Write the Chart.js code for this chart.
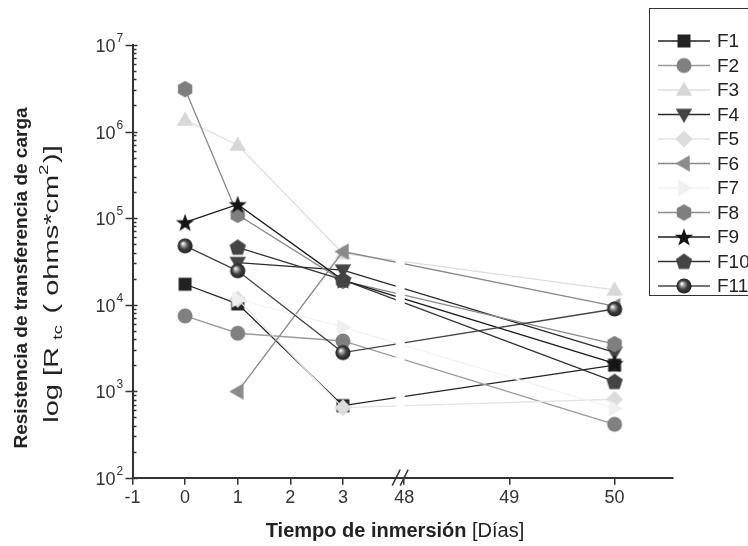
<!DOCTYPE html>
<html><head><meta charset="utf-8">
<script src="https://cdn.jsdelivr.net/npm/chart.js@4.4.1/dist/chart.umd.min.js"></script>
<style>html,body{margin:0;padding:0;background:#fff}#wrap{width:748px;height:546px;position:relative}</style>
</head><body><div id="wrap"><canvas id="c" width="748" height="546"></canvas></div>
<script>
// ---- data ----
const days = [0, 1, 3, 50];
const seriesNames = ['F1','F2','F3','F4','F5','F6','F7','F8','F9','F10','F11'];
const F1  = [1.72e4, 1.02e4, 680,    2.0e3];
const F2  = [7.4e3,  4.67e3, 3.8e3,  414];
const F3  = [1.36e6, 7.0e5,  3.9e4,  1.48e4];
const F4  = [null,   3.06e4, 2.5e4,  2.8e3];
const F5  = [null,   1.15e4, 645,    806];
const F6  = [null,   990,    4.1e4,  9.6e3];
const F7  = [null,   1.15e4, 5.5e3,  634];
const F8  = [3.09e6, 1.09e5, 1.88e4, 3.5e3];
const F9  = [8.9e4,  1.44e5, 1.92e4, 2.1e3];
const F10 = [null,   4.6e4,  1.93e4, 1.29e3];
const F11 = [4.78e4, 2.46e4, 2.79e3, 8.9e3];
const seriesValues = [F1,F2,F3,F4,F5,F6,F7,F8,F9,F10,F11];
const xTickDays = [-1, 0, 1, 2, 3, 48, 49, 50];
const xTickLabels = ['-1','0','1','2','3','48','49','50'];
const yTickExponents = [2, 3, 4, 5, 6, 7];
const yTitleBold = 'Resistencia de transferencia de carga';
const xTitleBold = 'Tiempo de inmersión';
const xTitleNormal = ' [Días]';

// ---- styles ----
const markerKinds = ['square','circle','triUp','triDown','diamond','triLeft','triRight','hexagon','star','pentagon','sphere'];
const markerFills = ['#222222','#808080','#d8d8d8','#444444','#dcdcdc','#8a8a8a','#f0f0f0','#7f7f7f','#151515','#444444','#333333'];
const lineColors  = ['#222222','#9a9a9a','#dedede','#2a2a2a','#e4e4e4','#888888','#f2f2f2','#8a8a8a','#1a1a1a','#333333','#444444'];
const FONT = '"Liberation Sans", Arial, sans-serif';

// break in the time axis: days up to 3 are linear, days from 48 on resume after a gap
function toAxis(d){ return d <= 3 ? d : (d - 48) * 2 + 4.165; }

function poly(g, cx, cy, r, n, startDeg){
  for (let i = 0; i < n; i++){
    const a = (startDeg + i * 360 / n) * Math.PI / 180;
    const px = cx + r * Math.cos(a), py = cy + r * Math.sin(a);
    i ? g.lineTo(px, py) : g.moveTo(px, py);
  }
  g.closePath();
}
function makeMarker(kind, fill){
  const c = document.createElement('canvas'); c.width = 22; c.height = 22;
  const g = c.getContext('2d'); const cx = 11, cy = 11;
  g.fillStyle = fill; g.beginPath();
  switch(kind){
    case 'square': g.rect(cx-6.5, cy-6.5, 13, 13); break;
    case 'circle': g.arc(cx, cy, 7.5, 0, 2*Math.PI); break;
    case 'triUp': poly(g, cx, cy+1, 9.5, 3, -90); break;
    case 'triDown': poly(g, cx, cy-1, 9.5, 3, 90); break;
    case 'triLeft': poly(g, cx+1, cy, 9.5, 3, 180); break;
    case 'triRight': poly(g, cx-1, cy, 9.5, 3, 0); break;
    case 'diamond': poly(g, cx, cy, 8.5, 4, -90); break;
    case 'hexagon': poly(g, cx, cy, 8.3, 6, -90); break;
    case 'pentagon': poly(g, cx, cy+0.5, 8.6, 5, -90); break;
    case 'star': {
      for (let i = 0; i < 10; i++){
        const r = i % 2 ? 3.9 : 9.6;
        const a = (-90 + i * 36) * Math.PI / 180;
        const px = cx + r*Math.cos(a), py = cy + 0.8 + r*Math.sin(a);
        i ? g.lineTo(px, py) : g.moveTo(px, py);
      }
      g.closePath(); break;
    }
    case 'sphere': {
      const gr = g.createRadialGradient(cx-2.3, cy-2.3, 0.3, cx, cy, 8);
      gr.addColorStop(0, '#ffffff'); gr.addColorStop(0.22, '#a8a8a8');
      gr.addColorStop(0.55, '#404040'); gr.addColorStop(1, '#1c1c1c');
      g.fillStyle = gr; g.arc(cx, cy, 7.6, 0, 2*Math.PI); break;
    }
  }
  g.fill();
  return c;
}
const markers = markerKinds.map((k, i) => makeMarker(k, markerFills[i]));

const datasets = seriesValues.map((vals, i) => ({
  label: seriesNames[i],
  data: days.map((d, j) => ({x: toAxis(d), y: vals[j]})).filter(p => p.y !== null),
  borderColor: lineColors[i],
  borderWidth: 1.3,
  pointStyle: markers[i],
  pointRadius: 8,
  pointHoverRadius: 8,
  fill: false,
  tension: 0,
  order: seriesValues.length - 1 - i
}));

const decorPlugin = {
  id: 'decor',
  afterDatasetsDraw(chart){
    const {ctx, chartArea, scales} = chart;
    const bx = scales.x.getPixelForValue(toAxis(48)) - 4;
    ctx.save();
    ctx.fillStyle = '#ffffff';
    ctx.fillRect(bx - 4.5, chartArea.top, 9, chartArea.bottom - chartArea.top - 2);
    ctx.restore();
  },
  afterDraw(chart){
    const {ctx, chartArea, scales} = chart;
    const x0 = chartArea.left, yb = chartArea.bottom;
    ctx.save();
    // y axis ticks
    ctx.strokeStyle = '#333'; ctx.lineWidth = 1.5;
    yTickExponents.forEach(k => {
      const y = Math.round(scales.y.getPixelForValue(Math.pow(10, k))) + 0.5;
      ctx.beginPath(); ctx.moveTo(x0 - 7, y); ctx.lineTo(x0 + 5, y); ctx.stroke();
      if (k < 7) for (let m = 2; m <= 9; m++){
        const ym = Math.round(scales.y.getPixelForValue(m * Math.pow(10, k))) + 0.5;
        ctx.beginPath(); ctx.moveTo(x0, ym); ctx.lineTo(x0 + 4, ym); ctx.stroke();
      }
    });
    // y tick labels 10^k
    ctx.fillStyle = '#333';
    yTickExponents.forEach(k => {
      const y = scales.y.getPixelForValue(Math.pow(10, k));
      ctx.font = '18px ' + FONT; ctx.textAlign = 'right'; ctx.textBaseline = 'middle';
      ctx.fillText('10', x0 - 17, y + 2);
      ctx.font = '12px ' + FONT; ctx.textAlign = 'left';
      ctx.fillText(String(k), x0 - 16, y - 6);
    });
    // axis break marks
    const bx = scales.x.getPixelForValue(toAxis(48)) - 4;
    ctx.lineWidth = 1.5; ctx.strokeStyle = '#333';
    [-4, 4].forEach(o => {
      ctx.beginPath(); ctx.moveTo(bx + o - 4, yb + 8); ctx.lineTo(bx + o + 4, yb - 8); ctx.stroke();
    });
    // x title
    ctx.fillStyle = '#222'; ctx.textBaseline = 'middle'; ctx.textAlign = 'left';
    ctx.font = 'bold 20px ' + FONT; const wb = ctx.measureText(xTitleBold).width;
    ctx.font = '20px ' + FONT; const wn = ctx.measureText(xTitleNormal).width;
    let sx = 395 - (wb + wn) / 2;
    ctx.font = 'bold 20px ' + FONT; ctx.fillText(xTitleBold, sx, 531);
    ctx.font = '20px ' + FONT; ctx.fillText(xTitleNormal, sx + wb, 531);
    // y title
    ctx.save(); ctx.translate(22, 278); ctx.rotate(-Math.PI/2);
    ctx.textAlign = 'center'; ctx.font = 'bold 19px ' + FONT;
    ctx.fillText(yTitleBold, 0, 0);
    ctx.restore();
    ctx.save(); ctx.translate(52, 284); ctx.rotate(-Math.PI/2); ctx.scale(1.45, 1);
    const pieces = [['log [R', 20, 0, 0], ['tc', 13, 6, 5], ['( ohms*cm', 20, 0, 8], ['2', 13, -8, 0], [')]', 20, 0, 1]];
    let tot = 0;
    pieces.forEach(p => { ctx.font = p[1] + 'px ' + FONT; p.push(ctx.measureText(p[0]).width); tot += p[3] + p[4]; });
    let px = -tot / 2; ctx.textAlign = 'left';
    pieces.forEach(p => { px += p[3]; ctx.font = p[1] + 'px ' + FONT; ctx.fillText(p[0], px, p[2]); px += p[4]; });
    ctx.restore();
    // legend
    const lx = 649.5, ly = 8.5;
    ctx.strokeStyle = '#333'; ctx.lineWidth = 1;
    ctx.strokeRect(lx, ly, 140, 287);
    seriesNames.forEach((n, i) => {
      const y = 41 + i * 24.5;
      ctx.strokeStyle = lineColors[i]; ctx.lineWidth = 1.3;
      ctx.beginPath(); ctx.moveTo(658, y); ctx.lineTo(710, y); ctx.stroke();
      ctx.drawImage(markers[i], 684 - 11, y - 11);
      ctx.fillStyle = '#222'; ctx.font = '19px ' + FONT; ctx.textAlign = 'left'; ctx.textBaseline = 'middle';
      ctx.fillText(n, 717, y + 1);
    });
    ctx.restore();
  }
};

new Chart(document.getElementById('c'), {
  type: 'line',
  data: { datasets },
  plugins: [decorPlugin],
  options: {
    responsive: false, animation: false, devicePixelRatio: 1,
    layout: { padding: { left: 0, top: 45, right: 75, bottom: 0 } },
    plugins: { legend: { display: false }, tooltip: { enabled: false } },
    scales: {
      x: {
        type: 'linear', min: -1, max: 9.276,
        afterBuildTicks: s => { s.ticks = xTickDays.map(d => ({ value: toAxis(d) })); },
        afterFit: s => { s.height = 68.3; },
        ticks: { autoSkip: false, maxRotation: 0, padding: 3, color: '#333',
                 font: { family: FONT, size: 18 },
                 callback: (v, i) => xTickLabels[i] },
        grid: { drawOnChartArea: false, drawTicks: true, tickLength: 7, color: '#333', lineWidth: 1.5 },
        border: { display: true, color: '#333', width: 2 }
      },
      y: {
        type: 'logarithmic', min: 100, max: 1e7,
        afterFit: s => { s.width = 132.5; },
        ticks: { display: false },
        grid: { display: true, drawOnChartArea: false, drawTicks: false, color: 'rgba(0,0,0,0)' },
        border: { display: true, color: '#333', width: 2 }
      }
    }
  }
});
</script>
</body></html>
